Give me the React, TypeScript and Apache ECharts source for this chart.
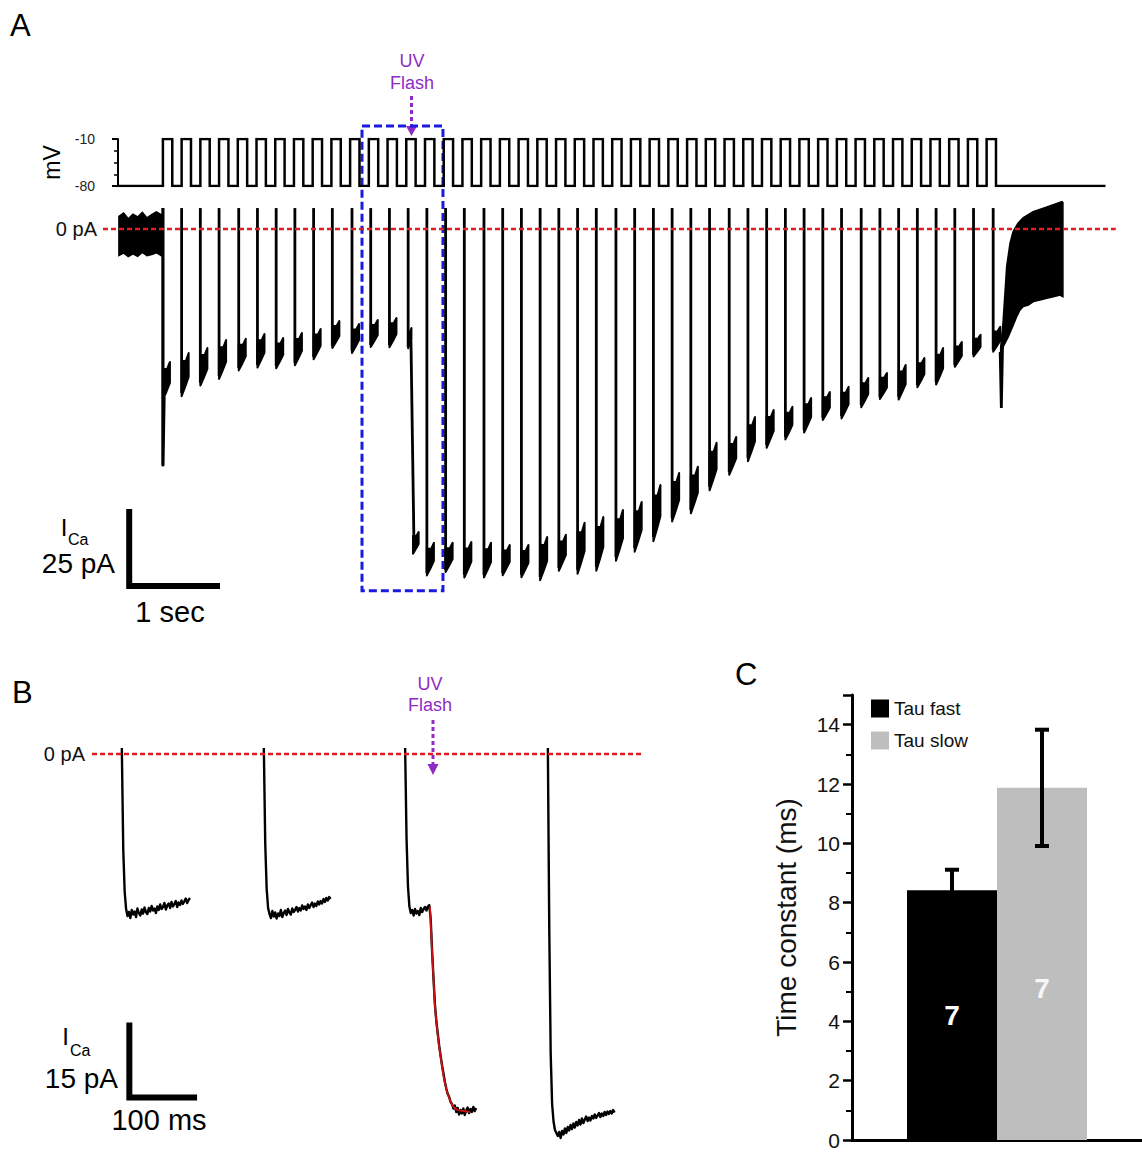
import React, { useEffect, useRef } from "react";
import * as echarts from "echarts";

const FONT = '"Liberation Sans", Arial, Helvetica, sans-serif';
const RED = "#dc1e1e";
const PURPLE = "#8e2bc4";
const BLUE = "#1a1ae0";

// ---------- Panel A : voltage protocol (time in s, mV) ----------
const holdingMv = -80;
const stepMv = -10;
const stepDuration = 0.1;
const protocolEnd = 10.55;
const stepStarts = [
  0.48, 0.68, 0.88, 1.08, 1.28, 1.48, 1.68, 1.88, 2.08, 2.28,
  2.48, 2.68, 2.88, 3.08, 3.28, 3.48, 3.68, 3.88, 4.08, 4.28,
  4.48, 4.68, 4.88, 5.08, 5.28, 5.48, 5.68, 5.88, 6.08, 6.28,
  6.48, 6.68, 6.88, 7.08, 7.28, 7.48, 7.68, 7.88, 8.08, 8.28,
  8.48, 8.68, 8.88, 9.08, 9.28,
];

// ---------- Panel A : calcium current (s, pA) ----------
const spikeTimes = [
  0.48, 0.68, 0.88, 1.08, 1.29, 1.49, 1.69, 1.89, 2.09, 2.29,
  2.5, 2.7, 2.9, 3.1, 3.3, 3.5, 3.7, 3.91, 4.11, 4.31,
  4.51, 4.71, 4.91, 5.11, 5.32, 5.52, 5.72, 5.92, 6.12, 6.32,
  6.53, 6.73, 6.93, 7.13, 7.33, 7.53, 7.73, 7.94, 8.14, 8.34,
  8.54, 8.74, 8.94, 9.14, 9.35,
];
const pulseMin = [
  -54.6, -53.3, -50.0, -47.8, -45.2, -44.2, -44.5, -43.5, -41.6, -38.0,
  -39.6, -37.7, -37.7, -38.3, -111.8, -110.8, -112.4, -112.4, -111.8, -112.4,
  -113.1, -110.2, -110.8, -109.8, -106.6, -103.7, -100.1, -93.9, -91.3, -83.8,
  -79.0, -74.4, -70.2, -67.6, -65.3, -61.4, -60.8, -57.2, -54.6, -54.6,
  -50.7, -49.7, -44.2, -40.9, -39.3,
];
const pulseTip = [
  -43.2, -40.3, -38.7, -36.1, -35.7, -34.1, -35.4, -33.8, -32.5, -29.9,
  -30.9, -29.6, -28.9, -32.2, -102.0, -102.0, -101.7, -102.0, -102.7, -102.7,
  -100.1, -99.4, -95.5, -93.6, -91.3, -88.7, -83.2, -79.3, -77.3, -69.5,
  -67.6, -61.1, -58.8, -57.8, -54.9, -53.0, -51.3, -48.4, -46.8, -44.2,
  -41.9, -38.7, -36.7, -34.4, -31.8,
];
const spikeTop = 6.8;
const firstPulsePeak = -76.7;
const flashPulse = 13;
const flashPostMin = -105;
const flashPostTip = -98.5;

const baselineTimes = [0.01, 0.06, 0.11, 0.16, 0.21, 0.26, 0.31, 0.36, 0.41, 0.475];
const baselineUpper = [4.1, 5.2, 3.3, 4.8, 3.9, 5.4, 3.6, 4.7, 5.6, 4.4];
const baselineLower = [-8.6, -7.8, -9.0, -8.1, -8.9, -7.6, -8.7, -8.3, -7.7, -8.9];

const tailTimes = [9.425, 9.437, 9.45];
const tailValues = [-40, -58.2, -38];

const recoveryUpperTimes = [9.43, 9.455, 9.494, 9.53, 9.562, 9.615, 9.669, 9.776, 9.925, 10.085, 10.095];
const recoveryUpper = [-38.5, -30.5, -12.2, -4.6, -0.9, 1.9, 3.6, 5.6, 7.2, 8.9, 8.6];
const recoveryLowerTimes = [9.43, 9.459, 9.512, 9.565, 9.601, 9.637, 9.672, 9.726, 9.779, 9.85, 9.922, 9.993, 10.064, 10.095];
const recoveryLower = [-40.5, -38.2, -35.0, -31.2, -28.5, -26.3, -25.2, -24.7, -23.6, -23.1, -22.5, -22.0, -21.5, -22.0];

const flashWindowTime = [2.607, 3.472];
const flashWindowCurrent = [-117.6, 33.5];
const scaleBarA = { t: 0.12, i: -91.0, seconds: 1, pA: 25 };

// ---------- Panel B : single sweeps (ms, pA) ----------
const sweepStarts = [42, 242, 441, 642];
const sampleStepMs = 2;
const sweep1 = [1.2, -19, -27.5, -31, -32.4, -31.6, -32.8, -31.2, -32.1, -31.5, -32.6, -30.9, -31.8, -32.3, -31.1, -31.9, -30.7, -31.6, -32.0, -30.8, -31.5, -30.4, -31.3, -30.9, -31.8, -30.5, -31.2, -30.1, -31.0, -30.6, -29.8, -31.1, -30.3, -29.9, -30.8, -29.6, -30.5, -30.0, -29.4, -30.6, -29.7, -30.2, -29.3, -30.0, -29.5, -28.9, -29.8, -29.2, -28.8];
const sweep2 = [1.2, -18, -27, -30.8, -32.0, -32.8, -31.4, -32.5, -31.7, -32.9, -31.9, -32.4, -31.2, -32.6, -31.8, -31.3, -32.2, -31.0, -31.7, -32.1, -30.9, -31.6, -31.2, -30.6, -31.5, -30.8, -31.3, -30.3, -31.0, -30.5, -31.2, -30.1, -30.8, -30.2, -29.7, -30.6, -29.9, -30.4, -29.5, -30.1, -29.4, -29.9, -29.0, -29.6, -28.8, -29.3, -28.6, -29.0];
const sweep3 = [1.2, -17, -26.5, -30.5, -31.8, -31.2, -32.3, -31.0, -31.9, -31.4, -32.2, -30.8, -31.6, -31.0, -30.6, -31.3, -30.5, -30.2, -33.0, -39.5, -45.0, -50.2, -53.5, -56.0, -58.4, -60.4, -62.3, -63.9, -65.6, -66.9, -68.0, -68.6, -69.6, -70.0, -70.9, -70.3, -71.6, -70.8, -72.1, -71.2, -71.9, -70.9, -72.2, -71.3, -70.7, -71.8, -71.0, -71.6, -70.6, -71.4, -70.8];
const sweep4 = [1.2, -35, -60, -70, -73.5, -75.2, -75.8, -76.4, -75.6, -76.8, -75.4, -76.1, -74.9, -75.8, -74.6, -75.3, -74.2, -75.0, -73.9, -74.7, -73.6, -74.3, -73.2, -74.1, -72.9, -73.8, -73.1, -72.5, -73.4, -72.7, -73.3, -72.4, -72.9, -72.1, -72.8, -72.3, -71.8, -72.6, -71.9, -72.4, -71.6, -72.2, -71.5, -72.0, -71.4, -71.9, -71.2, -71.7];
const sweeps = [sweep1, sweep2, sweep3, sweep4];
const fitTimes = [476, 478.4, 480.8, 483.1, 487.8, 492.5, 497.2, 504.2, 513.6, 527.7, 532];
const fitValues = [-30.5, -37.9, -44.5, -50.5, -57.2, -61.9, -65.9, -69.2, -71.1, -71.5, -71.6];
const scaleBarB = { t: 52.6, i: -53.7, ms: 100, pA: 15 };

// ---------- Panel C : time constants ----------
const tauNames = ["Tau fast", "Tau slow"];
const tauMean = [8.42, 11.87];
const tauSem = [0.69, 1.96];
const tauN = [7, 7];
const tauColors = ["#000000", "#bebebe"];

const BAR_W = 90;

function buildOption(): any {
  const voltageData: number[][] = [[0, holdingMv]];
  stepStarts.forEach((s) => {
    voltageData.push([s, holdingMv], [s, stepMv], [s + stepDuration, stepMv], [s + stepDuration, holdingMv]);
  });
  voltageData.push([protocolEnd, holdingMv]);

  const pulseData = spikeTimes.map((t, i) => [t, pulseMin[i], pulseTip[i]]);

  const lineStroke = { stroke: "#000", lineWidth: 2.8, fill: "none", lineJoin: "round" };

  const wedge = (c: any, x0: number, a: number, b: number, w: number) => {
    const h = b - a;
    return {
      type: "polygon",
      shape: {
        points: [
          c(x0, a - 0.08 * h),
          c(x0 + 0.5 * w, a + 0.15 * h),
          c(x0 + w, b - 0.6 * h),
          c(x0 + w, b),
          c(x0 + 0.6 * w, b - 0.2 * h),
          c(x0, a + 0.8 * h),
        ],
      },
      style: { fill: "#000", stroke: "#000", lineWidth: 2, lineJoin: "round" },
    };
  };

  const text = (t: string, x: number, y: number, size: number, align: string, color = "#000", weight = "normal") => ({
    type: "text",
    x,
    y,
    style: {
      text: t,
      fontSize: size,
      fontFamily: FONT,
      fontWeight: weight,
      fill: color,
      align,
      textAlign: align,
      verticalAlign: "middle",
      textVerticalAlign: "middle",
    },
  });

  const hiddenX = (gridIndex: number, min: number, max: number) => ({
    type: "value",
    gridIndex,
    min,
    max,
    show: false,
  });

  return {
    animation: false,
    backgroundColor: "#ffffff",
    grid: [
      { left: 103, top: 139, width: 1012.8, height: 47 },
      { left: 103, top: 121.3, width: 1012.8, height: 492.3 },
      { left: 92, top: 734, width: 551, height: 410 },
      { left: 852, top: 695, right: 0, height: 445 },
    ],
    xAxis: [
      hiddenX(0, -0.16, 10.66),
      hiddenX(1, -0.16, 10.66),
      hiddenX(2, 0, 776),
      {
        type: "category",
        gridIndex: 3,
        data: ["tau"],
        axisLine: { show: true, lineStyle: { color: "#000", width: 3 } },
        axisTick: { show: false },
        axisLabel: { show: false },
      },
    ],
    yAxis: [
      {
        type: "value",
        gridIndex: 0,
        min: -80,
        max: -10,
        interval: 70,
        axisLine: { show: true, lineStyle: { color: "#000", width: 2 } },
        axisTick: { show: true, length: 6, lineStyle: { color: "#000", width: 2 } },
        minorTick: { show: true, splitNumber: 4, length: 4, lineStyle: { color: "#000", width: 1.5 } },
        splitLine: { show: false },
        axisLabel: { fontSize: 14, margin: 8, color: "#222", fontFamily: FONT },
        name: "mV",
        nameLocation: "middle",
        nameRotate: 90,
        nameGap: 36,
        nameTextStyle: { fontSize: 23, color: "#000", fontFamily: FONT },
      },
      {
        type: "value",
        gridIndex: 1,
        min: -125,
        max: 35,
        interval: 125,
        axisLine: { show: false },
        axisTick: { show: false },
        splitLine: { show: false },
        axisLabel: {
          margin: 6,
          fontSize: 20,
          color: "#111",
          fontFamily: FONT,
          formatter: (v: number) => (v === 0 ? "0 pA" : ""),
        },
      },
      {
        type: "value",
        gridIndex: 2,
        min: -78,
        max: 4,
        interval: 78,
        axisLine: { show: false },
        axisTick: { show: false },
        splitLine: { show: false },
        axisLabel: {
          margin: 7,
          fontSize: 20,
          color: "#111",
          fontFamily: FONT,
          formatter: (v: number) => (v === 0 ? "0 pA" : ""),
        },
      },
      {
        type: "value",
        gridIndex: 3,
        min: 0,
        max: 15,
        interval: 2,
        axisLine: { show: true, lineStyle: { color: "#000", width: 3 } },
        axisTick: { show: true, length: 9, lineStyle: { color: "#000", width: 2.5 } },
        minorTick: { show: true, splitNumber: 2, length: 6, lineStyle: { color: "#000", width: 2 } },
        splitLine: { show: false },
        axisLabel: {
          margin: 12,
          fontSize: 21,
          color: "#111",
          fontFamily: FONT,
          formatter: (v: number) => (v > 14 ? "" : String(v)),
        },
        name: "Time constant (ms)",
        nameLocation: "middle",
        nameRotate: 90,
        nameGap: 52,
        nameTextStyle: { fontSize: 28, color: "#111", fontFamily: FONT },
      },
    ],
    legend: {
      data: tauNames,
      orient: "vertical",
      left: 866,
      top: 694,
      icon: "rect",
      itemWidth: 18,
      itemHeight: 18,
      itemGap: 13,
      textStyle: { fontSize: 19, color: "#111", fontFamily: FONT },
    },
    series: [
      // voltage protocol
      {
        type: "line",
        xAxisIndex: 0,
        yAxisIndex: 0,
        data: voltageData,
        symbol: "none",
        lineStyle: { color: "#000", width: 2.5, join: "miter" },
        z: 3,
      },
      // baseline noise block
      {
        type: "custom",
        coordinateSystem: "cartesian2d",
        xAxisIndex: 1,
        yAxisIndex: 1,
        data: [[baselineTimes[0], baselineUpper[0]]],
        renderItem: (_p: any, api: any) => {
          const c = (x: number, y: number) => api.coord([x, y]);
          const pts = baselineTimes.map((t, i) => c(t, baselineUpper[i]));
          for (let i = baselineTimes.length - 1; i >= 0; i--) pts.push(c(baselineTimes[i], baselineLower[i]));
          return { type: "polygon", shape: { points: pts }, style: { fill: "#000", stroke: "#000", lineWidth: 1.5 } };
        },
        z: 3,
      },
      // pulses
      {
        type: "custom",
        coordinateSystem: "cartesian2d",
        xAxisIndex: 1,
        yAxisIndex: 1,
        data: pulseData,
        encode: { x: 0, y: [1, 2] },
        renderItem: (params: any, api: any) => {
          const i = params.dataIndex;
          const t = api.value(0) as number;
          const lo = api.value(1) as number;
          const hi = api.value(2) as number;
          const c = (x: number, y: number) => api.coord([x, y]);
          const children: any[] = [];
          if (i === 0) {
            children.push({
              type: "polyline",
              shape: { points: [c(t, spikeTop), c(t, firstPulsePeak), c(t + 0.012, lo)] },
              style: { ...lineStroke, lineWidth: 3.2 },
            });
          } else {
            children.push({ type: "polyline", shape: { points: [c(t, spikeTop), c(t, lo)] }, style: lineStroke });
          }
          if (i === flashPulse) {
            children.push(wedge(c, t, lo, hi, 0.035));
            children.push({
              type: "polyline",
              shape: { points: [c(t + 0.03, lo + 2), c(t + 0.062, flashPostMin + 3)] },
              style: lineStroke,
            });
            children.push(wedge(c, t + 0.052, flashPostMin, flashPostTip, 0.06));
          } else {
            children.push(wedge(c, t, lo, hi, 0.075));
          }
          return { type: "group", children };
        },
        z: 3,
      },
      // tail spike
      {
        type: "line",
        xAxisIndex: 1,
        yAxisIndex: 1,
        data: tailTimes.map((t, i) => [t, tailValues[i]]),
        symbol: "none",
        lineStyle: { color: "#000", width: 2.8 },
        z: 3,
      },
      // recovery block
      {
        type: "custom",
        coordinateSystem: "cartesian2d",
        xAxisIndex: 1,
        yAxisIndex: 1,
        data: [[recoveryUpperTimes[0], recoveryUpper[0]]],
        renderItem: (_p: any, api: any) => {
          const c = (x: number, y: number) => api.coord([x, y]);
          const pts = recoveryUpperTimes.map((t, i) => c(t, recoveryUpper[i]));
          for (let i = recoveryLowerTimes.length - 1; i >= 0; i--) pts.push(c(recoveryLowerTimes[i], recoveryLower[i]));
          return { type: "polygon", shape: { points: pts }, style: { fill: "#000", stroke: "#000", lineWidth: 1.5 } };
        },
        z: 3,
      },
      // zero line A + flash window
      {
        type: "line",
        xAxisIndex: 1,
        yAxisIndex: 1,
        data: [[-0.16, 0], [10.66, 0]],
        symbol: "none",
        lineStyle: { color: RED, width: 2.4, type: [5, 3] },
        z: 5,
        markArea: {
          silent: true,
          itemStyle: { color: "rgba(0,0,0,0)", borderColor: BLUE, borderWidth: 3, borderType: [8, 4] },
          data: [[
            { coord: [flashWindowTime[0], flashWindowCurrent[1]] },
            { coord: [flashWindowTime[1], flashWindowCurrent[0]] },
          ]],
        },
      },
      // scale bar A
      {
        type: "line",
        xAxisIndex: 1,
        yAxisIndex: 1,
        data: [
          [scaleBarA.t, scaleBarA.i],
          [scaleBarA.t, scaleBarA.i - scaleBarA.pA],
          [scaleBarA.t + scaleBarA.seconds - 0.03, scaleBarA.i - scaleBarA.pA],
        ],
        symbol: "none",
        lineStyle: { color: "#000", width: 6, join: "miter", cap: "butt" },
        z: 3,
      },
      // Panel B sweeps
      ...sweeps.map((sw, k) => ({
        type: "line",
        xAxisIndex: 2,
        yAxisIndex: 2,
        data: sw.map((v, i) => [sweepStarts[k] + i * sampleStepMs, v]),
        symbol: "none",
        lineStyle: { color: "#000", width: 2.4, join: "round" },
        z: 3,
      })),
      // exponential fit
      {
        type: "line",
        xAxisIndex: 2,
        yAxisIndex: 2,
        data: fitTimes.map((t, i) => [t, fitValues[i]]),
        symbol: "none",
        smooth: true,
        lineStyle: { color: "#d01010", width: 1.8 },
        z: 4,
      },
      // zero line B
      {
        type: "line",
        xAxisIndex: 2,
        yAxisIndex: 2,
        data: [[0, 0], [776, 0]],
        symbol: "none",
        lineStyle: { color: RED, width: 2.4, type: [5, 3] },
        z: 5,
      },
      // scale bar B
      {
        type: "line",
        xAxisIndex: 2,
        yAxisIndex: 2,
        data: [
          [scaleBarB.t, scaleBarB.i],
          [scaleBarB.t, scaleBarB.i - scaleBarB.pA],
          [scaleBarB.t + scaleBarB.ms - 4.6, scaleBarB.i - scaleBarB.pA],
        ],
        symbol: "none",
        lineStyle: { color: "#000", width: 6, join: "miter", cap: "butt" },
        z: 3,
      },
      // Panel C bars
      ...tauNames.map((name, k) => ({
        type: "bar",
        name,
        xAxisIndex: 3,
        yAxisIndex: 3,
        data: [tauMean[k]],
        barWidth: BAR_W,
        barGap: "0%",
        itemStyle: { color: tauColors[k] },
        label: {
          show: true,
          position: "inside",
          offset: k === 1 ? [0, 25] : [0, 0],
          formatter: () => String(tauN[k]),
          color: k === 1 ? "#f6f6f6" : "#ffffff",
          fontSize: 28,
          fontWeight: "bold",
          fontFamily: FONT,
        },
        z: 2,
      })),
      // error bars
      {
        type: "custom",
        coordinateSystem: "cartesian2d",
        xAxisIndex: 3,
        yAxisIndex: 3,
        data: tauMean.map((m, k) => [0, m - tauSem[k], m + tauSem[k], k]),
        encode: { x: 0, y: [1, 2] },
        renderItem: (_p: any, api: any) => {
          const k = api.value(3) as number;
          const lowP = api.coord([api.value(0), api.value(1)]);
          const highP = api.coord([api.value(0), api.value(2)]);
          const x = lowP[0] + (k === 0 ? -BAR_W / 2 : BAR_W / 2);
          const half = 7;
          const st = { stroke: "#000", lineWidth: 4 };
          return {
            type: "group",
            children: [
              { type: "line", shape: { x1: x, y1: lowP[1], x2: x, y2: highP[1] }, style: st },
              { type: "line", shape: { x1: x - half, y1: highP[1], x2: x + half, y2: highP[1] }, style: st },
              { type: "line", shape: { x1: x - half, y1: lowP[1], x2: x + half, y2: lowP[1] }, style: st },
            ],
          };
        },
        z: 4,
      },
    ],
    graphic: [
      text("A", 10, 25, 31, "left"),
      text("B", 12, 692, 31, "left"),
      text("C", 735, 674, 31, "left"),
      // UV flash A
      text("UV", 412, 61, 18, "center", PURPLE),
      text("Flash", 412, 83, 18, "center", PURPLE),
      { type: "line", shape: { x1: 411.5, y1: 96, x2: 411.5, y2: 127 }, style: { stroke: PURPLE, lineWidth: 3, lineDash: [4, 3] } },
      { type: "polygon", shape: { points: [[406, 126], [417, 126], [411.5, 136]] }, style: { fill: PURPLE } },
      // UV flash B
      text("UV", 430, 684, 18, "center", PURPLE),
      text("Flash", 430, 705, 18, "center", PURPLE),
      { type: "line", shape: { x1: 433, y1: 720, x2: 433, y2: 765 }, style: { stroke: PURPLE, lineWidth: 3, lineDash: [4, 3] } },
      { type: "polygon", shape: { points: [[427.5, 764], [438.5, 764], [433, 775]] }, style: { fill: PURPLE } },
      // scale bar labels A
      text("I", 64, 527, 24, "center"),
      text("Ca", 68, 539, 16, "left"),
      text("25 pA", 115, 563, 28, "right"),
      text("1 sec", 170, 612, 29, "center"),
      // scale bar labels B
      text("I", 65.5, 1036, 24, "center"),
      text("Ca", 70, 1050, 16, "left"),
      text("15 pA", 118, 1078, 28, "right"),
      text("100 ms", 159, 1120, 29, "center"),
    ],
  };
}

export default function App() {
  const ref = useRef<HTMLDivElement>(null);
  useEffect(() => {
    if (!ref.current) return;
    const chart = echarts.init(ref.current, null, { renderer: "svg" });
    chart.setOption(buildOption());
    return () => chart.dispose();
  }, []);
  return <div ref={ref} style={{ position: "absolute", left: 0, top: 0, width: 1142, height: 1154 }} />;
}
